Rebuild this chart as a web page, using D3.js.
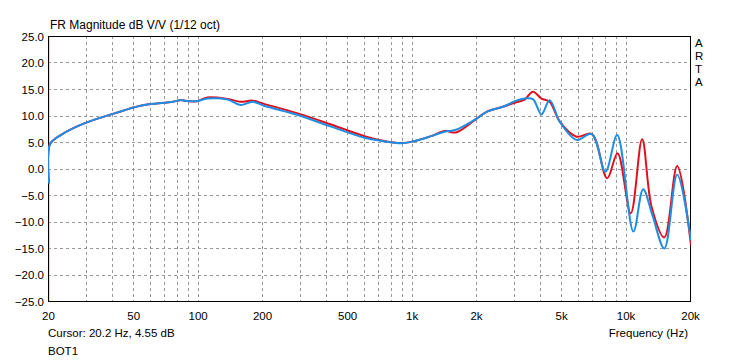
<!DOCTYPE html>
<html><head><meta charset="utf-8">
<script src="https://cdn.jsdelivr.net/npm/d3@7"></script>
<style>html,body{margin:0;padding:0;background:#fff;} svg{display:block;font-family:Arial,"Liberation Sans",sans-serif;}</style>
</head><body>
<svg id="c" width="737" height="362"></svg>
<script>
const title = "FR Magnitude dB V/V (1/12 oct)";
const xTickValues = [20, 50, 100, 200, 500, 1000, 2000, 5000, 10000, 20000];
const xTickLabels = ["20", "50", "100", "200", "500", "1k", "2k", "5k", "10k", "20k"];
const yTickValues = [25, 20, 15, 10, 5, 0, -5, -10, -15, -20, -25];
const xGridValues = [30,40,50,60,70,80,90,100,200,300,400,500,600,700,800,900,1000,2000,3000,4000,5000,6000,7000,8000,9000,10000];
const cursorFreq = 20.2;

const redFreq = [20, 20.2, 22.7, 29.2, 40.5, 53.6, 76, 82, 90, 98, 110, 137, 157, 179, 202, 291, 416, 596, 715, 885, 1015, 1219, 1412, 1594, 2006, 2218, 2665, 3050, 3338, 3650, 4000, 4370, 4880, 5840, 6880, 8110, 9070, 10460, 11820, 13100, 15010, 17240, 20000];
const redDb   = [-2.8, 4.55, 6.3, 8.5, 10.4, 11.85, 12.6, 12.9, 12.7, 12.7, 13.4, 13.1, 12.6, 12.8, 12.2, 10.4, 8.3, 6.1, 5.3, 4.8, 5.15, 6.1, 7.1, 6.8, 9.5, 10.7, 11.7, 12.5, 13.0, 14.5, 13.2, 12.6, 8.8, 6.0, 6.5, -1.85, 2.9, -8.45, 5.5, -7.3, -13.0, 0.47, -14.5];

const blueFreq = [20, 20.2, 22.7, 29.2, 40.5, 53.6, 76, 82, 90, 98, 110, 137, 157, 179, 202, 291, 416, 596, 715, 885, 1015, 1219, 1412, 1594, 2006, 2218, 2665, 3050, 3338, 3650, 4000, 4370, 4880, 5840, 6880, 7960, 9040, 10760, 11950, 13200, 15010, 17240, 20000];
const blueDb   = [-2.8, 4.55, 6.3, 8.5, 10.4, 11.85, 12.6, 12.9, 12.7, 12.7, 13.2, 13.0, 12.0, 12.6, 11.85, 10.1, 7.9, 5.8, 5.2, 4.75, 5.15, 6.1, 6.95, 7.3, 9.5, 10.7, 11.7, 12.8, 13.2, 13.1, 10.2, 12.9, 8.8, 5.4, 6.5, -0.6, 6.3, -11.9, -3.9, -8.8, -15.1, -1.2, -13.5];

const svg = d3.select("#c");
const L = 48, R = 690, T = 36, B = 301;
const x = d3.scaleLog().domain([20, 20000]).range([L, R]);
const y = d3.scaleLinear().domain([-25, 25]).range([B, T]);

// grid
const g = svg.append("g");
g.selectAll("line.vg").data(xGridValues).join("line")
  .attr("x1", d => Math.round(x(d)) + 0.5).attr("x2", d => Math.round(x(d)) + 0.5)
  .attr("y1", T).attr("y2", B)
  .attr("stroke", "#999").attr("stroke-width", 1).attr("stroke-dasharray", "3,3");
g.selectAll("line.hg").data(yTickValues.filter(v => v > -25 && v < 25)).join("line")
  .attr("x1", L).attr("x2", R)
  .attr("y1", d => Math.round(y(d)) + 0.5).attr("y2", d => Math.round(y(d)) + 0.5)
  .attr("stroke", "#999").attr("stroke-width", 1).attr("stroke-dasharray", "3,3");

// axes (labels only)
const xAxis = d3.axisBottom(x).tickValues(xTickValues).tickFormat((d, i) => xTickLabels[i]).tickSize(0).tickPadding(0);
const xa = svg.append("g").attr("transform", `translate(0,${B})`).call(xAxis);
xa.select(".domain").remove();
xa.selectAll("text").attr("dy", null).attr("y", 19).attr("font-size", 11.5).attr("fill", "#000").attr("font-family", "Arial, 'Liberation Sans', sans-serif");

const yAxis = d3.axisLeft(y).tickValues(yTickValues).tickFormat(d3.format(".1f")).tickSize(0).tickPadding(0);
const ya = svg.append("g").attr("transform", `translate(${L - 4},0)`).call(yAxis);
ya.select(".domain").remove();
ya.selectAll("text").attr("dy", "0.36em").attr("font-size", 11.5).attr("fill", "#000").attr("font-family", "Arial, 'Liberation Sans', sans-serif");

// cursor
svg.append("line").attr("x1", x(cursorFreq)).attr("x2", x(cursorFreq)).attr("y1", T).attr("y2", B)
  .attr("stroke", "#c8c800").attr("stroke-width", 1);

// frame
svg.append("rect").attr("x", L + 0.5).attr("y", T + 0.5).attr("width", R - L).attr("height", B - T)
  .attr("fill", "none").attr("stroke", "#000").attr("stroke-width", 1);

// curves
const line = d3.line().x(d => x(d[0]) + 1).y(d => y(d[1])).curve(d3.curveCatmullRom.alpha(0.5));
svg.append("clipPath").attr("id", "pc").append("rect").attr("x", L).attr("y", T).attr("width", R - L + 1).attr("height", B - T);
const redPts = redFreq.map((f, i) => [f, redDb[i]]);
const bluePts = blueFreq.map((f, i) => [f, blueDb[i]]);
svg.append("path").attr("d", line(redPts)).attr("fill", "none").attr("stroke", "#e0101c").attr("stroke-width", 2).attr("clip-path", "url(#pc)");
svg.append("path").attr("d", line(bluePts)).attr("fill", "none").attr("stroke", "#1e8ee4").attr("stroke-width", 2).attr("clip-path", "url(#pc)");

// texts
svg.append("text").attr("x", L + 2).attr("y", 29).attr("font-size", 12).text(title);
["A", "R", "T", "A"].forEach((c, i) => {
  svg.append("text").attr("x", 695).attr("y", 47 + i * 13).attr("font-size", 11.5).text(c);
});
svg.append("text").attr("x", L).attr("y", 337).attr("font-size", 11.5).text("Cursor: 20.2 Hz, 4.55 dB");
svg.append("text").attr("x", L).attr("y", 355).attr("font-size", 11.5).text("BOT1");
svg.append("text").attr("x", 688).attr("y", 337).attr("font-size", 11.5).attr("text-anchor", "end").text("Frequency (Hz)");
</script>
</body></html>
